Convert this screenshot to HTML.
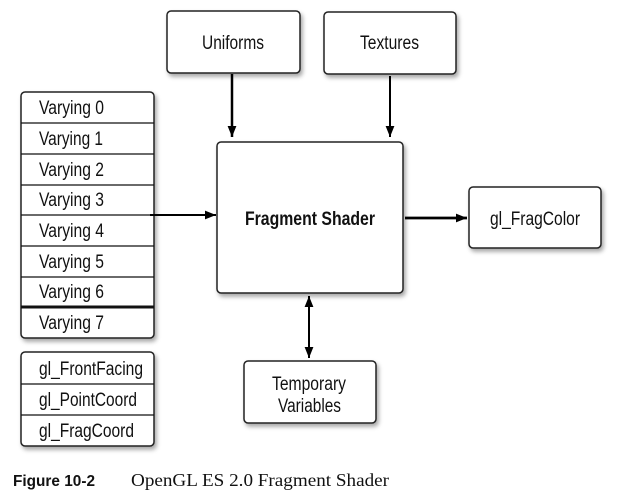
<!DOCTYPE html>
<html><head><meta charset="utf-8"><style>
html,body{margin:0;padding:0;background:#fff;}
svg{display:block;}
.t{font-family:"Liberation Sans",sans-serif;font-size:19px;fill:#111;}
</style></head><body>
<svg width="622" height="497" viewBox="0 0 622 497" xmlns="http://www.w3.org/2000/svg">
<defs>
<filter id="sh" x="-10%" y="-10%" width="130%" height="130%"><feDropShadow dx="2" dy="3" stdDeviation="2" flood-color="#000" flood-opacity="0.35"/></filter>
<marker id="ar" viewBox="0 0 10 10" refX="10" refY="5" markerWidth="12" markerHeight="11" markerUnits="userSpaceOnUse" orient="auto-start-reverse"><path d="M0,1 L10,5 L0,9 z" fill="#000"/></marker>
</defs>
<g fill="#fff" stroke="#222" stroke-width="1.5">
<rect x="21" y="92" width="133" height="246" rx="4" filter="url(#sh)"/>
<rect x="21" y="352" width="133" height="94" rx="4" filter="url(#sh)"/>
<rect x="167" y="11" width="133" height="62" rx="4" filter="url(#sh)"/>
<rect x="324" y="12" width="132" height="62" rx="4" filter="url(#sh)"/>
<rect x="217" y="142" width="186" height="151" rx="4" filter="url(#sh)"/>
<rect x="469" y="187" width="132" height="61" rx="4" filter="url(#sh)"/>
<rect x="244" y="361" width="132" height="62" rx="4" filter="url(#sh)"/>
</g>
<g stroke="#111" stroke-width="1.3">
<line x1="21" y1="123" x2="154" y2="123"/><line x1="21" y1="154" x2="154" y2="154"/>
<line x1="21" y1="185" x2="154" y2="185"/><line x1="21" y1="215" x2="154" y2="215"/>
<line x1="21" y1="246" x2="154" y2="246"/><line x1="21" y1="277" x2="154" y2="277"/>
<line x1="21" y1="307" x2="154" y2="307" stroke-width="3"/>
<line x1="21" y1="384" x2="154" y2="384"/><line x1="21" y1="415" x2="154" y2="415"/>
</g>
<g stroke="#000" stroke-width="2" fill="none">
<line x1="232" y1="74" x2="232" y2="137" stroke-width="2.5" marker-end="url(#ar)"/>
<line x1="390" y1="76" x2="390" y2="137" marker-end="url(#ar)"/>
<line x1="150" y1="215" x2="216" y2="215" marker-end="url(#ar)"/>
<line x1="405" y1="218" x2="467" y2="218" stroke-width="2.8" marker-end="url(#ar)"/>
<line x1="309" y1="296" x2="309" y2="358" marker-start="url(#ar)" marker-end="url(#ar)"/>
</g>
<g class="t">
<text x="39" y="114" textLength="65" lengthAdjust="spacingAndGlyphs">Varying 0</text>
<text x="39" y="145" textLength="64" lengthAdjust="spacingAndGlyphs">Varying 1</text>
<text x="39" y="176" textLength="65" lengthAdjust="spacingAndGlyphs">Varying 2</text>
<text x="39" y="206" textLength="65" lengthAdjust="spacingAndGlyphs">Varying 3</text>
<text x="39" y="237" textLength="65" lengthAdjust="spacingAndGlyphs">Varying 4</text>
<text x="39" y="268" textLength="65" lengthAdjust="spacingAndGlyphs">Varying 5</text>
<text x="39" y="298" textLength="65" lengthAdjust="spacingAndGlyphs">Varying 6</text>
<text x="39" y="329" textLength="65" lengthAdjust="spacingAndGlyphs">Varying 7</text>
<text x="39" y="375" textLength="104" lengthAdjust="spacingAndGlyphs">gl_FrontFacing</text>
<text x="39" y="406" textLength="98" lengthAdjust="spacingAndGlyphs">gl_PointCoord</text>
<text x="39" y="437" textLength="95" lengthAdjust="spacingAndGlyphs">gl_FragCoord</text>
<text x="202" y="49" textLength="62" lengthAdjust="spacingAndGlyphs">Uniforms</text>
<text x="360" y="49" textLength="59" lengthAdjust="spacingAndGlyphs">Textures</text>
<text x="245" y="225" textLength="130" lengthAdjust="spacingAndGlyphs" font-weight="bold">Fragment Shader</text>
<text x="490" y="225" textLength="90" lengthAdjust="spacingAndGlyphs">gl_FragColor</text>
<text x="272" y="390" textLength="74" lengthAdjust="spacingAndGlyphs">Temporary</text>
<text x="278" y="412" textLength="63" lengthAdjust="spacingAndGlyphs">Variables</text>
</g>
<text x="13" y="486" textLength="82" lengthAdjust="spacingAndGlyphs" font-family="Liberation Sans,sans-serif" font-weight="bold" font-size="16" fill="#111">Figure 10-2</text>
<text x="131" y="486" textLength="258" lengthAdjust="spacingAndGlyphs" font-family="Liberation Serif,serif" font-size="18" fill="#111">OpenGL ES 2.0 Fragment Shader</text>
</svg>
</body></html>
